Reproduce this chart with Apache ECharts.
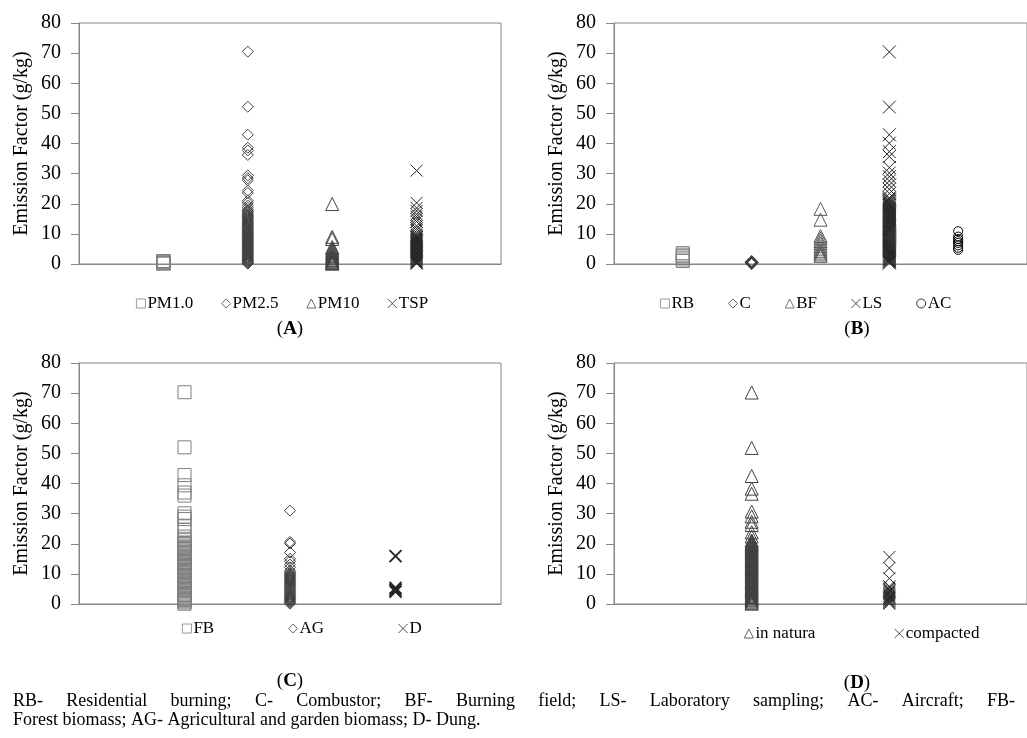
<!DOCTYPE html>
<html>
<head>
<meta charset="utf-8">
<script src="https://cdn.jsdelivr.net/npm/echarts@6/dist/echarts.min.js"></script>
<style>
  html, body { margin: 0; padding: 0; background: #fff; }
  #chart { width: 1027px; height: 738px; }
</style>
</head>
<body>
<div id="chart"></div>
<script>
// values (g/kg)
const yTicks = [0, 80, 10]; // min, max, step

// (A) by particle size
const namesA = ['PM1.0', 'PM2.5', 'PM10', 'TSP'];
const pm1 = [0.2, 0.5, 0.9];
const pm25 = [70.5, 52.2, 42.9, 38.6, 37.7, 36.2, 29.4, 28.5, 27.8, 24.4, 23.6, 21.0, 20.3, 19.4, 18.7, 18.0,
    17.6, 17.3, 16.9, 16.4, 16.2, 15.8, 15.5, 15.2, 14.9, 14.5, 14.2, 13.9, 13.6, 13.3, 13.1, 12.7, 12.4,
    12.1, 11.9, 11.5, 11.2, 10.9, 10.6, 10.3, 10.1, 9.8, 9.4, 9.2, 8.9, 8.6, 8.4, 8.1, 7.8, 7.5, 7.3, 7.0,
    6.7, 6.5, 6.2, 5.9, 5.7, 5.4, 5.1, 4.8, 4.6, 4.3, 4.0, 3.8, 3.5, 3.2, 3.0, 2.7, 2.4, 2.1, 1.9, 1.6,
    1.3, 1.1, 0.8, 0.5, 0.3, 0.1];
const pm10 = [19.9, 9.0, 8.3, 5.6, 5.1, 4.6, 4.0, 3.5, 3.1, 2.6, 2.2, 1.8, 1.3, 0.9, 0.6, 0.3, 0.1];
const tsp = [31.0, 20.3, 18.6, 17.6, 16.5, 15.7, 14.9, 14.1, 12.6, 11.8, 11.1, 10.3, 9.7, 9.3, 9.0, 8.8,
    8.4, 8.2, 7.9, 7.6, 7.4, 7.1, 6.8, 6.5, 6.3, 6.0, 5.7, 5.4, 5.2, 4.9, 4.6, 4.3, 4.1, 3.8, 3.5, 3.2,
    3.0, 2.7, 2.4, 2.1, 1.9, 1.6, 1.3, 1.0, 0.8, 0.5, 0.3, 0.1];

// (B) by sampling
const namesB = ['RB', 'C', 'BF', 'LS', 'AC'];
const rb = [1.0, 1.5, 2.1, 2.6, 3.1, 3.6];
const comb = [0.3, 0.5, 0.7];
const bf = [18.3, 14.7, 9.3, 8.5, 7.6, 6.8, 5.9, 5.1, 4.4, 3.8, 3.2, 2.7];
const ls = [70.4, 52.1, 42.9, 40.1, 37.3, 35.7, 32.0, 30.2, 29.0, 27.6, 26.2, 24.8, 23.4, 22.0, 21.6, 21.3,
    20.9, 20.5, 20.2, 19.8, 19.5, 19.2, 18.8, 18.4, 18.1, 17.8, 17.5, 17.1, 16.8, 16.4, 16.1, 15.8, 15.4,
    15.1, 14.7, 14.4, 14.1, 13.7, 13.4, 13.0, 12.7, 12.3, 12.0, 11.7, 11.4, 11.0, 10.7, 10.3, 10.0, 9.6,
    9.3, 9.0, 8.6, 8.3, 7.9, 7.6, 7.3, 6.9, 6.6, 6.2, 5.9, 5.6, 5.2, 4.9, 4.5, 4.2, 3.9, 3.5, 3.2, 2.8,
    2.5, 2.2, 1.8, 1.5, 1.2, 0.9, 0.6, 0.3];
const ac = [10.9, 9.1, 8.3, 7.6, 7.0, 6.2, 5.4, 4.7];

// (C) by biomass
const namesC = ['FB', 'AG', 'D'];
const fb = [70.3, 52.0, 42.8, 39.4, 37.0, 36.0, 30.1, 29.0, 28.2, 26.0, 24.6, 22.4, 21.2, 20.4, 19.9, 19.4,
    19.0, 18.6, 18.2, 17.7, 17.3, 16.9, 16.5, 16.1, 15.6, 15.2, 14.8, 14.4, 13.9, 13.5, 13.1, 12.7, 12.3,
    11.8, 11.4, 11.0, 10.6, 10.2, 9.7, 9.3, 8.9, 8.5, 8.0, 7.6, 7.2, 6.8, 6.4, 5.9, 5.5, 5.1, 4.7, 4.2,
    3.8, 3.4, 3.0, 2.6, 2.1, 1.7, 1.3, 0.9, 0.5, 0.1];
const ag = [31.0, 20.6, 20.1, 17.1, 15.0, 14.2, 13.1, 12.2, 11.1, 10.6, 10.2, 9.9, 9.5, 9.2, 8.8, 8.5,
    8.1, 7.8, 7.4, 7.1, 6.7, 6.4, 6.0, 5.7, 5.3, 5.0, 4.6, 4.3, 3.9, 3.6, 3.2, 2.9, 2.5, 2.2, 1.8, 1.5,
    1.1, 0.8, 0.4, 0.1];
const dung = [15.9, 5.3, 4.7, 4.1];

// (D) by state
const namesD = ['in natura', 'compacted'];
const natura = [70.2, 51.8, 42.5, 38.3, 36.6, 30.7, 29.1, 27.3, 26.2, 23.8, 22.4, 21.1, 20.7, 20.3, 19.9,
    19.6, 19.2, 18.8, 18.4, 18.0, 17.6, 17.3, 16.9, 16.5, 16.1, 15.7, 15.3, 15.0, 14.6, 14.2, 13.8, 13.4,
    13.0, 12.7, 12.3, 11.9, 11.5, 11.1, 10.7, 10.4, 10.0, 9.6, 9.2, 8.8, 8.4, 8.1, 7.7, 7.3, 6.9, 6.5, 6.1,
    5.8, 5.4, 5.0, 4.6, 4.2, 3.8, 3.5, 3.1, 2.7, 2.3, 1.9, 1.5, 1.2, 0.8, 0.4, 0.1];
const compacted = [15.6, 11.9, 8.5, 5.9, 5.4, 4.9, 4.5, 4.1, 3.7, 3.3, 2.9, 2.5, 2.1, 1.8, 1.4, 1.0, 0.7,
    0.3, 0.1];

const footnote1 = 'RB- Residential burning; C- Combustor; BF- Burning field; LS- Laboratory sampling; AC- Aircraft; FB-';
const footnote2 = 'Forest biomass; AG- Agricultural and garden biomass; D- Dung.';

const FONT = 'Liberation Serif';
const AXIS = '#868686';
const CROSS = 'path://M0,0L10,10M10,0L0,10';
const NOTE_SIZE = 18;

const chart = echarts.init(document.getElementById('chart'));

const grids = [
    { left: 79, top: 23, width: 422, height: 241 },
    { left: 614, top: 23, width: 420, height: 241 },
    { left: 79, top: 363, width: 422, height: 241 },
    { left: 614, top: 363, width: 504, height: 241 }
].map(g => Object.assign({ show: true, borderColor: AXIS, borderWidth: 1, containLabel: false }, g));

const xMax = [5, 6, 4, 3];

const xAxes = xMax.map((m, i) => ({
    type: 'value', gridIndex: i, min: 0, max: m,
    axisLine: { lineStyle: { color: AXIS } },
    axisTick: { show: false }, axisLabel: { show: false }, splitLine: { show: false }
}));

const yAxes = xMax.map((m, i) => ({
    type: 'value', gridIndex: i, min: yTicks[0], max: yTicks[1], interval: yTicks[2],
    name: 'Emission Factor (g/kg)', nameLocation: 'middle', nameGap: 47,
    nameTextStyle: { fontFamily: FONT, fontSize: 20, color: '#000' },
    axisLine: { show: true, lineStyle: { color: AXIS } },
    axisTick: { show: true, length: 8, lineStyle: { color: AXIS } },
    axisLabel: { fontFamily: FONT, fontSize: 20, color: '#000', margin: 18 },
    splitLine: { show: false }
}));

function col(k, arr) {
    return arr.map(v => [k, v]);
}

function dots(name, panel, k, arr, symbol, size, color, width) {
    return {
        name: name, type: 'scatter', xAxisIndex: panel, yAxisIndex: panel,
        data: col(k, arr), symbol: symbol, symbolSize: size,
        itemStyle: { color: 'transparent', borderColor: color, borderWidth: width || 1, opacity: 1 },
        emphasis: { disabled: true }, animation: false
    };
}

const series = [
    dots('PM1.0', 0, 1, pm1, 'rect', 13, '#7f7f7f', 1.5),
    dots('PM2.5', 0, 2, pm25, 'diamond', 11, '#404040'),
    dots('PM10', 0, 3, pm10, 'triangle', 13, '#404040'),
    dots('TSP', 0, 4, tsp, CROSS, 12, '#262626'),

    dots('RB', 1, 1, rb, 'rect', 13, '#7f7f7f'),
    dots('C', 1, 2, comb, 'diamond', 11, '#404040', 2),
    dots('BF', 1, 3, bf, 'triangle', 13, '#595959'),
    dots('LS', 1, 4, ls, CROSS, 13, '#262626'),
    dots('AC', 1, 5, ac, 'circle', 9, '#000'),

    dots('FB', 2, 1, fb, 'rect', 13, '#7f7f7f'),
    dots('AG', 2, 2, ag, 'diamond', 11, '#404040'),
    dots('D', 2, 3, dung, CROSS, 12, '#262626', 2),

    dots('in natura', 3, 1, natura, 'triangle', 13, '#404040'),
    dots('compacted', 3, 2, compacted, CROSS, 12, '#262626')
];

function legendAt(names, left, top, gap) {
    return {
        data: names, left: left, top: top, itemGap: gap,
        itemWidth: 9, itemHeight: 9, selectedMode: false,
        itemStyle: { borderWidth: 0.8 },
        textStyle: { fontFamily: FONT, fontSize: 17, color: '#000', padding: [0, 0, 0, -3] }
    };
}

// justify the first footnote line across the page
const ctx = document.createElement('canvas').getContext('2d');
ctx.font = NOTE_SIZE + 'px "' + FONT + '"';
const words = footnote1.split(' ');
const widths = words.map(w => ctx.measureText(w).width);
const total = widths.reduce((a, b) => a + b, 0);
const span = 1002;
const gapW = (span - total) / (words.length - 1);
const graphics = [];
let x = 13;
words.forEach((w, i) => {
    graphics.push({ type: 'text', x: x, y: 701, style: { text: w, fontFamily: FONT, fontSize: NOTE_SIZE, fill: '#000', textVerticalAlign: 'middle' } });
    x += widths[i] + gapW;
});
graphics.push({ type: 'text', x: 13, y: 720, style: { text: footnote2, fontFamily: FONT, fontSize: NOTE_SIZE, fill: '#000', textVerticalAlign: 'middle' } });

[['A', 290, 329], ['B', 857, 329], ['C', 290, 681], ['D', 857, 683]].forEach(p => {
    graphics.push({
        type: 'text', x: p[1], y: p[2],
        style: {
            text: '({b|' + p[0] + '})', fontFamily: FONT, fontSize: 19, fill: '#000',
            textAlign: 'center', textVerticalAlign: 'middle',
            rich: { b: { fontFamily: FONT, fontSize: 19, fontWeight: 'bold', fill: '#000' } }
        }
    });
});

chart.setOption({
    backgroundColor: '#fff',
    animation: false,
    grid: grids,
    xAxis: xAxes,
    yAxis: yAxes,
    legend: [
        legendAt(namesA, 131, 290, 28),
        legendAt(namesB, 655, 290, 34),
        legendAt(namesC, 177, 615, 74),
        legendAt(namesD, 739, 620, 79)
    ],
    graphic: graphics,
    series: series
});
</script>
</body>
</html>
